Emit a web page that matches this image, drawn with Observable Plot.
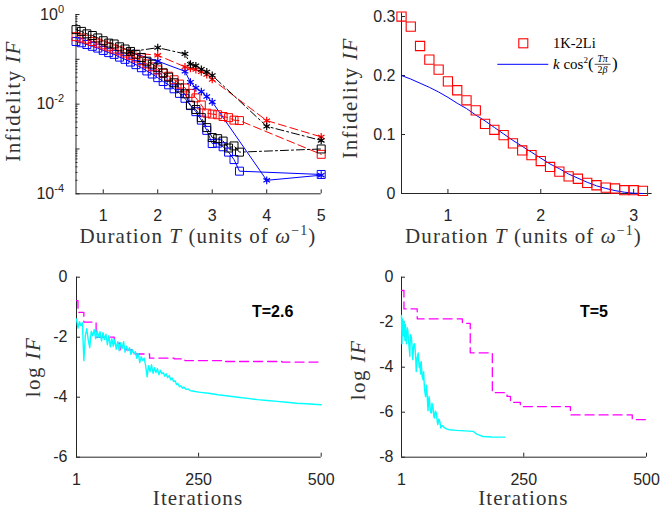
<!DOCTYPE html>
<html><head><meta charset="utf-8">
<script src="https://cdn.jsdelivr.net/npm/d3@7"></script>
<script src="https://cdn.jsdelivr.net/npm/@observablehq/plot@0.6"></script>
<style>
html,body{margin:0;padding:0;background:#fff;}
#root{position:relative;width:661px;height:511px;overflow:hidden;background:#fff;}
#root svg{position:absolute;overflow:visible;}
</style></head><body><div id="root"></div>
<script>
// ================= DATA =================
// Top-left panel: infidelity vs duration (log y)
const durSq = [0.5,0.6,0.7,0.8,0.9,1.0,1.1,1.2,1.3,1.4,1.5,1.6,1.7,1.8,1.9,2.0,2.1,2.2,2.3,2.4,2.5,2.6,2.7,2.8,2.9,3.0,3.1,3.2,3.3,3.4,3.5,5];
const ifBlackSq = [0.46,0.42,0.37,0.34,0.30,0.26,0.23,0.22,0.19,0.17,0.15,0.13,0.11,0.091,0.078,0.065,0.050,0.040,0.030,0.023,0.017,0.0095,0.0076,0.0050,0.0030,0.0018,0.0017,0.0015,0.00105,0.00117,0.00085,0.0010];
const ifRedSq = [0.32,0.30,0.28,0.25,0.23,0.21,0.19,0.17,0.155,0.138,0.123,0.107,0.093,0.079,0.068,0.058,0.049,0.042,0.035,0.028,0.023,0.0174,0.0138,0.0096,0.0063,0.0060,0.0058,0.0053,0.0050,0.0044,0.0043,0.00076];
const ifBlueSq = [0.25,0.234,0.214,0.195,0.178,0.158,0.141,0.129,0.112,0.100,0.087,0.076,0.065,0.055,0.047,0.039,0.032,0.027,0.022,0.0174,0.0135,0.0093,0.0068,0.0044,0.0026,0.00132,0.00135,0.00112,0.00085,0.00058,0.00032,0.00027];
const durStar = [1.5,2,2.5,2.6,2.7,2.8,2.9,3.0,4,5];
const ifBlackStar = [0.148,0.182,0.132,0.078,0.072,0.060,0.0525,0.0437,0.0032,0.00155];
const ifRedStar = [0.141,0.123,0.068,0.063,0.059,0.0525,0.0457,0.0355,0.0043,0.00186];
const ifBlueStar = [0.145,0.091,0.054,0.031,0.023,0.019,0.0148,0.0112,0.00020,0.00026];
const tlXTicks = [1,2,3,4,5];
const tlYTicks = [1,1e-2,1e-4];
const tlYTickLabels = ["10^0","10^-2","10^-4"];
const tlYMajor = [1,1e-1,1e-2,1e-3,1e-4];

// Top-right panel: 1K-2Li infidelity and fit k cos^2(T pi / 2 beta)
const durTR = [0.5,0.6,0.7,0.8,0.9,1.0,1.1,1.2,1.3,1.4,1.5,1.6,1.7,1.8,1.9,2.0,2.1,2.2,2.3,2.4,2.5,2.6,2.7,2.8,2.9,3.0,3.1];
const if1K2Li = [0.300,0.283,0.250,0.227,0.210,0.190,0.175,0.158,0.141,0.118,0.108,0.099,0.085,0.073,0.065,0.055,0.045,0.037,0.029,0.025,0.018,0.014,0.010,0.0085,0.0056,0.0056,0.0045];
const ifFit = [0.200,0.194,0.187,0.180,0.172,0.163,0.153,0.144,0.133,0.123,0.112,0.101,0.090,0.080,0.070,0.060,0.050,0.042,0.033,0.026,0.019,0.013,0.0086,0.0049,0.0022,0.0005,0.0];
const trXTicks = [1,2,3];
const trYTicks = [0,0.1,0.2,0.3];

// Bottom-left panel: T=2.6, log IF vs iterations
const blCyanIt = [1,4,7,10,13,16,19,22,25,28,31,34,37,40,43,46,49,52,55,58,61,64,67,70,73,76,79,82,85,88,91,94,97,100,103,106,109,112,115,118,121,124,127,130,133,136,139,142,145,148,151,154,157,160,163,166,169,172,175,178,181,184,187,190,193,196,199,202,205,208,211,214,217,220,224,228,233,240,250,270,290,310,330,350,370,390,410,430,450,470,500];
const blCyanVal = [-1.39,-1.70,-1.48,-1.62,-1.52,-2.78,-1.95,-1.72,-2.10,-2.35,-1.80,-1.95,-1.75,-2.05,-1.78,-2.00,-1.82,-2.12,-1.85,-2.08,-1.90,-2.25,-1.95,-2.32,-2.05,-2.30,-2.08,-2.40,-2.15,-2.45,-2.18,-2.38,-2.15,-2.50,-2.30,-2.45,-2.35,-2.58,-2.42,-2.55,-2.48,-2.70,-2.55,-2.85,-2.65,-2.78,-2.70,-2.95,-3.32,-2.95,-3.15,-2.92,-3.20,-3.02,-3.18,-3.05,-3.25,-3.10,-3.22,-3.18,-3.30,-3.22,-3.35,-3.28,-3.42,-3.36,-3.48,-3.45,-3.58,-3.55,-3.65,-3.62,-3.70,-3.66,-3.74,-3.72,-3.78,-3.80,-3.83,-3.87,-3.92,-3.96,-4.00,-4.04,-4.08,-4.11,-4.14,-4.17,-4.20,-4.22,-4.25];
const blMagIt = [1,4,16,41,78,90,115,150,200,222,300,420,500];
const blMagVal = [-0.78,-1.17,-1.50,-2.00,-2.20,-2.42,-2.56,-2.70,-2.72,-2.78,-2.81,-2.83,-2.83];
const blXTicks = [1,250,500];
const blYTicks = [0,-2,-4,-6];

// Bottom-right panel: T=5
const brCyanIt = [1,2,3,5,6,8,9,11,13,14,16,18,19,21,23,24,26,28,30,31,33,35,37,38,40,41,43,45,46,48,50,52,53,55,57,58,60,62,63,65,67,68,70,72,74,75,77,79,81,82,85,89,94,99,113,130,147,153,157,167,185,211];
const brCyanVal = [-1.70,-2.96,-1.85,-2.60,-1.95,-2.81,-2.10,-2.96,-2.25,-2.40,-3.00,-3.52,-2.55,-2.65,-3.20,-3.67,-3.00,-2.96,-3.60,-4.19,-3.60,-3.37,-4.00,-3.81,-4.30,-3.74,-4.40,-4.56,-4.20,-5.00,-5.30,-4.80,-5.15,-5.93,-5.30,-5.44,-6.00,-6.04,-5.60,-5.74,-6.20,-6.26,-5.95,-6.04,-6.45,-6.55,-6.30,-6.41,-6.70,-6.63,-6.60,-6.70,-6.75,-6.78,-6.81,-6.83,-6.85,-6.96,-7.00,-7.08,-7.10,-7.11];
const brMagIt = [1,6,33,125,141,186,216,223,243,345,471,500];
const brMagVal = [-0.59,-1.41,-1.85,-2.05,-3.36,-5.13,-5.30,-5.56,-5.75,-6.12,-6.33,-6.33];
const brXTicks = [1,250,500];
const brYTicks = [0,-2,-4,-6,-8];

// ================= HELPERS =================
const NS = "http://www.w3.org/2000/svg";
const root = document.getElementById("root");
const AX = "#262626";
const LBL = "#333333";
const SERIF = "'Liberation Serif','Times New Roman',serif";
const SANS = "'Liberation Sans',Arial,Helvetica,sans-serif";
const zip = (xs, ys) => xs.map((x, i) => ({x, y: ys[i]}));
function place(svg, left, top) { svg.style.left = left + "px"; svg.style.top = top + "px"; root.appendChild(svg); }
function addText(svg, x, y, parts, o = {}) {
  const t = document.createElementNS(NS, "text");
  t.setAttribute("x", x); t.setAttribute("y", y);
  t.setAttribute("font-family", o.family || SERIF);
  t.setAttribute("font-size", o.size || 21);
  t.setAttribute("fill", o.fill || LBL);
  t.setAttribute("text-anchor", o.anchor || "middle");
  if (o.weight) t.setAttribute("font-weight", o.weight);
  if (o.spacing) t.setAttribute("letter-spacing", o.spacing);
  if (o.rotate) t.setAttribute("transform", `rotate(-90 ${x} ${y})`);
  for (const p of parts) {
    const s = document.createElementNS(NS, "tspan");
    s.textContent = p.t;
    if (p.i) s.setAttribute("font-style", "italic");
    if (p.dy) s.setAttribute("dy", p.dy);
    if (p.size) s.setAttribute("font-size", p.size);
    t.appendChild(s);
  }
  svg.appendChild(t);
  return t;
}
const baseStyle = {fontFamily: SANS, fontSize: "16px", color: AX, background: "transparent", overflow: "visible"};
const durParts = [{t: "Duration "}, {t: "T", i: 1}, {t: " (units of "}, {t: "ω", i: 1}, {t: "−1", dy: -8, size: 14}, {t: ")", dy: 8}];

// ================= TOP-LEFT =================
{
  const W = 340, H = 250, mL = 75.5, mR = 19.3, mT = 14, mB = 56.7;
  const iW = W - mL - mR, iH = H - mT - mB;
  const minor = [];
  for (const e of [-4,-3,-2,-1]) for (let k = 2; k <= 9; k++) minor.push(k * Math.pow(10, e));
  const sq = [
    {d: zip(durSq, ifBlueSq), c: "#0000ff", dash: null},
    {d: zip(durSq, ifRedSq), c: "#ff0000", dash: "8,4"},
    {d: zip(durSq, ifBlackSq), c: "#000000", dash: "8,3,2,3"}
  ];
  const st = [
    {d: zip(durStar, ifBlueStar), c: "#0000ff", dash: null},
    {d: zip(durStar, ifRedStar), c: "#ff0000", dash: "8,4"},
    {d: zip(durStar, ifBlackStar), c: "#000000", dash: "8,3,2,3"}
  ];
  const marks = [
    Plot.ruleX(tlXTicks, {x: d => d, insetTop: iH - 4, stroke: AX}),
    Plot.ruleY(tlYMajor, {y: d => d, insetRight: iW - 4, stroke: AX}),
    Plot.ruleY(minor, {y: d => d, insetRight: iW - 2, stroke: AX}),
    Plot.ruleX([0.5], {stroke: AX}),
    Plot.ruleY([1e-4], {stroke: AX})
  ];
  for (const s of [...sq, ...st]) marks.push(Plot.line(s.d, {x: "x", y: "y", stroke: s.c, strokeWidth: 1, strokeDasharray: s.dash}));
  for (const s of sq) marks.push(Plot.dot(s.d, {x: "x", y: "y", symbol: "square", r: 4.5, stroke: s.c, fill: "none", strokeWidth: 1}));
  for (const s of st) marks.push(Plot.dot(s.d, {x: "x", y: "y", symbol: "asterisk", r: 3.6, stroke: s.c, strokeWidth: 1.2}));
  const p = Plot.plot({
    width: W, height: H, marginLeft: mL, marginRight: mR, marginTop: mT, marginBottom: mB,
    style: baseStyle,
    x: {domain: [0.5, 5], ticks: tlXTicks, tickSize: 0, tickPadding: 16, label: null, tickFormat: d => String(d)},
    y: {type: "log", domain: [1e-4, 1], ticks: tlYTicks, tickSize: 0, tickPadding: 12, label: null,
        tickFormat: d => tlYTickLabels[tlYTicks.indexOf(d)]},
    marks
  });
  p.querySelectorAll("text").forEach(t => {
    const m = /^10\^(.+)$/.exec(t.textContent);
    if (m) {
      t.textContent = "10";
      const s = document.createElementNS(NS, "tspan");
      s.setAttribute("dy", "-7"); s.setAttribute("font-size", "11"); s.textContent = m[1];
      t.appendChild(s);
    }
  });
  place(p, 0, 0);
  addText(p, 198, 243, durParts, {spacing: 1.1});
  addText(p, 19.5, 101, [{t: "Infidelity "}, {t: "IF", i: 1}], {rotate: 1, spacing: 1.4});
}

// ================= TOP-RIGHT =================
{
  const W = 321, H = 250, mL = 61, mR = 9.3, mT = 12.5, mB = 57;
  const iW = W - mL - mR, iH = H - mT - mB;
  const p = Plot.plot({
    width: W, height: H, marginLeft: mL, marginRight: mR, marginTop: mT, marginBottom: mB,
    style: baseStyle,
    x: {domain: [0.5, 3.2], ticks: trXTicks, tickSize: 0, tickPadding: 16, label: null, tickFormat: d => String(d)},
    y: {domain: [0, 0.306], ticks: trYTicks, tickSize: 0, tickPadding: 6, label: null, tickFormat: d => String(d)},
    marks: [
      Plot.ruleX(trXTicks, {x: d => d, insetTop: iH - 4, stroke: AX}),
      Plot.ruleY(trYTicks, {y: d => d, insetRight: iW - 4, stroke: AX}),
      Plot.ruleX([0.5], {stroke: AX}),
      Plot.ruleY([0], {stroke: AX}),
      Plot.line(zip(durTR, ifFit), {x: "x", y: "y", stroke: "#0000ff", strokeWidth: 1}),
      Plot.dot(zip(durTR, if1K2Li), {x: "x", y: "y", symbol: "square", r: 5.2, stroke: "#ff0000", fill: "none", strokeWidth: 1.1})
    ]
  });
  place(p, 340, 0);
  addText(p, 183.5, 243, durParts, {spacing: 1.1});
  addText(p, 16.5, 98, [{t: "Infidelity "}, {t: "IF", i: 1}], {rotate: 1, spacing: 1.4});
  // legend
  const r = document.createElementNS(NS, "rect");
  r.setAttribute("x", 178.8); r.setAttribute("y", 38.8); r.setAttribute("width", 9); r.setAttribute("height", 9);
  r.setAttribute("fill", "none"); r.setAttribute("stroke", "#ff0000"); r.setAttribute("stroke-width", 1.1);
  p.appendChild(r);
  addText(p, 213, 48.3, [{t: "1K-2Li"}], {size: 14.5, anchor: "start", fill: "#000"});
  const ln = document.createElementNS(NS, "line");
  ln.setAttribute("x1", 157.3); ln.setAttribute("x2", 208.3); ln.setAttribute("y1", 64.3); ln.setAttribute("y2", 64.3);
  ln.setAttribute("stroke", "#0000ff"); ln.setAttribute("stroke-width", 1);
  p.appendChild(ln);
  const f1 = addText(p, 213, 68.5, [{t: "k", i: 1}, {t: " cos"}, {t: "2", dy: -6, size: 9}, {t: "(", dy: 6, size: 17}], {size: 15, anchor: "start", fill: "#000"});
  const L = f1.getComputedTextLength();
  const fx = 213 + L + 9;
  addText(p, fx, 61.5, [{t: "Tπ", i: 1}], {size: 10, fill: "#000"});
  const fl = document.createElementNS(NS, "line");
  fl.setAttribute("x1", fx - 8); fl.setAttribute("x2", fx + 8); fl.setAttribute("y1", 64.3); fl.setAttribute("y2", 64.3);
  fl.setAttribute("stroke", "#000"); fl.setAttribute("stroke-width", 0.7);
  p.appendChild(fl);
  addText(p, fx, 72.5, [{t: "2"}, {t: "β", i: 1}], {size: 10, fill: "#000"});
  addText(p, fx + 9.5, 68.5, [{t: ")"}], {size: 17, anchor: "start", fill: "#000"});
}

// ================= BOTTOM-LEFT =================
{
  const W = 340, H = 261, mL = 76, mR = 19.3, mT = 26.7, mB = 54.3;
  const iW = W - mL - mR, iH = H - mT - mB;
  const p = Plot.plot({
    width: W, height: H, marginLeft: mL, marginRight: mR, marginTop: mT, marginBottom: mB,
    style: baseStyle,
    x: {domain: [1, 500], ticks: blXTicks, tickSize: 0, tickPadding: 16, label: null, tickFormat: d => String(d)},
    y: {domain: [-6, 0], ticks: blYTicks, tickSize: 0, tickPadding: 9, label: null, tickFormat: d => String(d)},
    marks: [
      Plot.ruleX(blXTicks, {x: d => d, insetTop: iH - 4, stroke: AX}),
      Plot.ruleY(blYTicks, {y: d => d, insetRight: iW - 4, stroke: AX}),
      Plot.ruleX([1], {stroke: AX}),
      Plot.ruleY([-6], {stroke: AX}),
      Plot.line(zip(blMagIt, blMagVal), {x: "x", y: "y", curve: "step-after", stroke: "#ff00ff", strokeWidth: 1.3, strokeDasharray: "9,5"}),
      Plot.line(zip(blCyanIt, blCyanVal), {x: "x", y: "y", stroke: "#00ffff", strokeWidth: 1.4})
    ]
  });
  place(p, 0, 250);
  addText(p, 198, 255, [{t: "Iterations"}], {spacing: 1.1});
  addText(p, 39.5, 117, [{t: "log "}, {t: "IF", i: 1}], {rotate: 1, spacing: 1.4});
  addText(p, 252, 66.7, [{t: "T=2.6"}], {family: SANS, size: 16, weight: "bold", anchor: "start", fill: "#000"});
}

// ================= BOTTOM-RIGHT =================
{
  const W = 321, H = 261, mL = 61, mR = 15, mT = 26.7, mB = 54.3;
  const iW = W - mL - mR, iH = H - mT - mB;
  const p = Plot.plot({
    width: W, height: H, marginLeft: mL, marginRight: mR, marginTop: mT, marginBottom: mB,
    style: baseStyle,
    x: {domain: [1, 500], ticks: brXTicks, tickSize: 0, tickPadding: 16, label: null, tickFormat: d => String(d)},
    y: {domain: [-8, 0], ticks: brYTicks, tickSize: 0, tickPadding: 8, label: null, tickFormat: d => String(d)},
    marks: [
      Plot.ruleX(brXTicks, {x: d => d, insetTop: iH - 4, stroke: AX}),
      Plot.ruleY(brYTicks, {y: d => d, insetRight: iW - 4, stroke: AX}),
      Plot.ruleX([1], {stroke: AX}),
      Plot.ruleY([-8], {stroke: AX}),
      Plot.line(zip(brMagIt, brMagVal), {x: "x", y: "y", curve: "step-after", stroke: "#ff00ff", strokeWidth: 1.3, strokeDasharray: "9,5"}),
      Plot.line(zip(brCyanIt, brCyanVal), {x: "x", y: "y", stroke: "#00ffff", strokeWidth: 1.4})
    ]
  });
  place(p, 340, 250);
  addText(p, 183.3, 255, [{t: "Iterations"}], {spacing: 1.1});
  addText(p, 24.5, 120, [{t: "log "}, {t: "IF", i: 1}], {rotate: 1, spacing: 1.4});
  addText(p, 240, 66.7, [{t: "T=5"}], {family: SANS, size: 16, weight: "bold", anchor: "start", fill: "#000"});
}
</script></body></html>
